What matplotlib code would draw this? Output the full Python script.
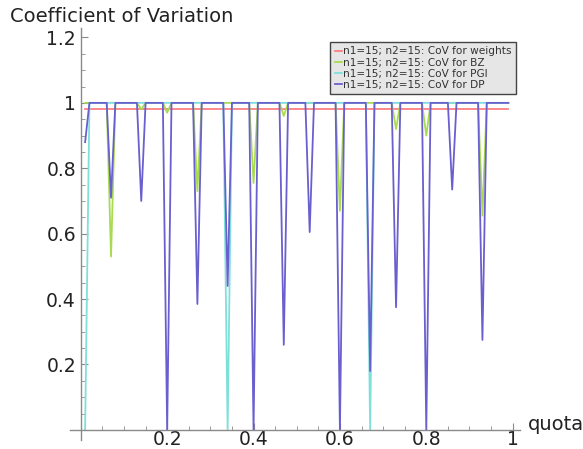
import matplotlib
matplotlib.use("Agg")
import matplotlib.pyplot as plt
from matplotlib.ticker import MultipleLocator, FixedLocator

# polyline vertices (quota, CoV)
weights_x = [0.01, 0.99]
weights_y = [0.98, 0.98]

bz_x = [0.01, 0.06, 0.07, 0.08, 0.13, 0.14, 0.15, 0.19, 0.20, 0.21, 0.26, 0.27, 0.28,
        0.39, 0.40, 0.41, 0.46, 0.47, 0.48, 0.59, 0.60, 0.61, 0.72, 0.73, 0.74,
        0.79, 0.80, 0.81, 0.92, 0.93, 0.94, 0.99]
bz_y = [1, 1, 0.53, 1, 1, 0.98, 1, 1, 0.97, 1, 1, 0.73, 1,
        1, 0.755, 1, 1, 0.96, 1, 1, 0.67, 1, 1, 0.92, 1,
        1, 0.90, 1, 1, 0.655, 1, 1]

pgi_x = [0.01, 0.02, 0.33, 0.34, 0.35, 0.66, 0.67, 0.68, 0.99]
pgi_y = [0, 1, 1, 0, 1, 1, 0, 1, 1]

dp_x = [0.01, 0.02, 0.06, 0.07, 0.08, 0.13, 0.14, 0.15, 0.19, 0.20, 0.21, 0.26, 0.27, 0.28,
        0.33, 0.34, 0.35, 0.39, 0.40, 0.41, 0.46, 0.47, 0.48, 0.52, 0.53, 0.54,
        0.59, 0.60, 0.61, 0.66, 0.67, 0.68, 0.72, 0.73, 0.74, 0.79, 0.80, 0.81,
        0.85, 0.86, 0.87, 0.92, 0.93, 0.94, 0.99]
dp_y = [0.88, 1, 1, 0.71, 1, 1, 0.70, 1, 1, 0, 1, 1, 0.385, 1,
        1, 0.44, 1, 1, 0, 1, 1, 0.26, 1, 1, 0.605, 1,
        1, 0, 1, 1, 0.18, 1, 1, 0.375, 1, 1, 0, 1,
        1, 0.735, 1, 1, 0.275, 1, 1]

labels = ["n1=15; n2=15: CoV for weights", "n1=15; n2=15: CoV for BZ",
          "n1=15; n2=15: CoV for PGI", "n1=15; n2=15: CoV for DP"]
xticks = [0.2, 0.4, 0.6, 0.8, 1.0]
xticklabels = ["0.2", "0.4", "0.6", "0.8", "1"]
yticks = [0.2, 0.4, 0.6, 0.8, 1.0, 1.2]
yticklabels = ["0.2", "0.4", "0.6", "0.8", "1", "1.2"]

fig = plt.figure(figsize=(5.83, 4.49), dpi=100)
ax = fig.add_axes([70/583, 1-440/449, 450/583, 412/449])

ax.plot(weights_x, weights_y, color="#ff8080", lw=1.3, label=labels[0])
ax.plot(bz_x, bz_y, color="#a8dc50", lw=1.3, label=labels[1])
ax.plot(pgi_x, pgi_y, color="#7fe0da", lw=1.3, label=labels[2])
ax.plot(dp_x, dp_y, color="#6a5fcf", lw=1.3, label=labels[3])

ax.set_xlim(-0.025, 1.017)
ax.set_ylim(-0.031, 1.229)

for s in ["top", "right"]:
    ax.spines[s].set_visible(False)
ax.spines["left"].set_position(("data", 0))
ax.spines["bottom"].set_position(("data", 0))
for s in ["left", "bottom"]:
    ax.spines[s].set_color("#8a8a8a")
    ax.spines[s].set_linewidth(1.0)

ax.xaxis.set_major_locator(FixedLocator(xticks))
ax.set_xticklabels(xticklabels)
ax.yaxis.set_major_locator(FixedLocator(yticks))
ax.set_yticklabels(yticklabels)
ax.xaxis.set_minor_locator(MultipleLocator(0.05))
ax.yaxis.set_minor_locator(MultipleLocator(0.05))
ax.tick_params(which="both", direction="in", color="#8a8a8a", labelsize=13.5,
               labelcolor="#222222")
ax.tick_params(which="major", length=5)
ax.tick_params(which="minor", length=3)
ax.tick_params(axis="x", pad=0)

fig.text(10/583, 1-16/449, "Coefficient of Variation", fontsize=14,
         color="#222222", ha="left", va="center")
fig.text(528/583, 1-425/449, "quota", fontsize=14, color="#222222",
         ha="left", va="center")

leg = ax.legend(loc="upper right", bbox_to_anchor=(521/583, 1-37/449),
                bbox_transform=fig.transFigure, fontsize=7.6, handlelength=0.7,
                handletextpad=0.1, borderpad=0.4, labelspacing=0.1,
                fancybox=False, framealpha=1)
leg.get_frame().set_facecolor("#e6e6e6")
leg.get_frame().set_edgecolor("#444444")
for t in leg.get_texts():
    t.set_color("#333333")

fig.savefig("out.png", dpi=100)
